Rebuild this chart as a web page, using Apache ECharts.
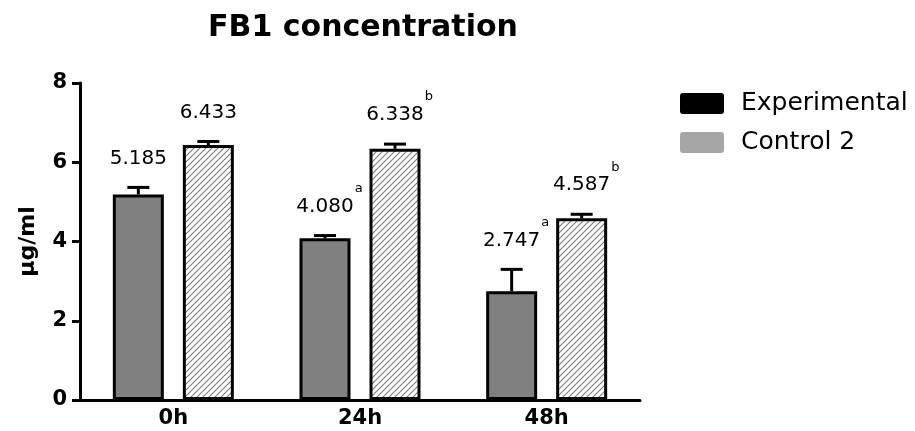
<!DOCTYPE html>
<html lang="en">
  <head>
    <meta charset="UTF-8" />
    <script src="https://cdn.jsdelivr.net/npm/echarts@6/dist/echarts.min.js"></script>
    <title>FB1 concentration</title>
    <style>
      html, body { margin: 0; padding: 0; background: #fff; }
    </style>
  </head>
  <body>
    <div id="container" style="width: 915px; height: 431px;"></div>

    <script>
      const categories = ["0h", "24h", "48h"];
      const experimental = [5.185, 4.08, 2.747];
      const control = [6.433, 6.338, 4.587];
      // upper error (SEM) read from the caps
      const experimentalErr = [0.18, 0.07, 0.55];
      const controlErr = [0.09, 0.12, 0.1];
      const experimentalSup = ["", "a", "a"];
      const controlSup = ["", "b", "b"];

      const FONT = "DejaVu Sans";
      const BAR_W = 51;
      const BAR_GAP = 19;

      // diagonal hatch for the control bars
      function hatch() {
        const s = 6;
        const c = document.createElement("canvas");
        c.width = s;
        c.height = s;
        const ctx = c.getContext("2d");
        ctx.fillStyle = "#fff";
        ctx.fillRect(0, 0, s, s);
        ctx.strokeStyle = "#7a7a7a";
        ctx.lineWidth = 1.1;
        ctx.beginPath();
        ctx.moveTo(0, s); ctx.lineTo(s, 0);
        ctx.moveTo(-1, 1); ctx.lineTo(1, -1);
        ctx.moveTo(s - 1, s + 1); ctx.lineTo(s + 1, s - 1);
        ctx.stroke();
        return c;
      }

      const measure = document.createElement("canvas").getContext("2d");
      measure.font = "20px '" + FONT + "'";

      function errorSeries(values, errs, sups, dx) {
        return {
          type: "custom",
          z: 5,
          silent: true,
          data: values.map((v, i) => [i, v, errs[i]]),
          renderItem: function (params, api) {
            const i = api.value(0);
            const v = api.value(1);
            const e = api.value(2);
            const sup = sups[i];
            const base = api.coord([i, v]);
            const top = api.coord([i, v + e]);
            const x = base[0] + dx;
            const txt = v.toFixed(3);
            const w = measure.measureText(txt).width;
            const ly = top[1] - 29;
            const children = [
              {
                type: "line",
                shape: { x1: x, y1: base[1], x2: x, y2: top[1] },
                style: { stroke: "#000", lineWidth: 3 },
              },
              {
                type: "line",
                shape: { x1: x - 11, y1: top[1], x2: x + 11, y2: top[1] },
                style: { stroke: "#000", lineWidth: 3 },
              },
              {
                type: "text",
                style: {
                  x: x,
                  y: ly,
                  text: txt,
                  fill: "#000",
                  font: "20px '" + FONT + "'",
                  align: "center",
                  verticalAlign: "middle",
                },
              },
            ];
            if (sup) {
              children.push({
                type: "text",
                style: {
                  x: x + w / 2 + 1,
                  y: ly - 18,
                  text: sup,
                  fill: "#000",
                  font: "13px '" + FONT + "'",
                  align: "left",
                  verticalAlign: "middle",
                },
              });
            }
            return { type: "group", children: children };
          },
        };
      }

      const myChart = echarts.init(document.getElementById("container"));

      const legendIcon =
        "path://M3,0 H41 Q44,0 44,3 V18 Q44,21 41,21 H3 Q0,21 0,18 V3 Q0,0 3,0 Z";

      const option = {
        animation: false,
        title: {
          text: "FB1 concentration",
          left: 358,
          top: 8,
          textAlign: "center",
          textStyle: { fontFamily: FONT, fontSize: 30, fontWeight: "bold", color: "#000" },
        },
        legend: {
          orient: "vertical",
          left: 675,
          top: 86,
          itemWidth: 44,
          itemHeight: 21,
          itemGap: 14,
          icon: legendIcon,
          textStyle: { fontFamily: FONT, fontSize: 25, color: "#000", padding: [0, 0, 0, 12] },
          data: [
            { name: "Experimental", itemStyle: { color: "#000", borderWidth: 0 } },
            { name: "Control 2", itemStyle: { color: "#a6a6a6", borderWidth: 0 } },
          ],
        },
        grid: { left: 80, right: 275, top: 83, bottom: 31 },
        xAxis: {
          type: "category",
          data: categories,
          axisLine: { lineStyle: { color: "#000", width: 3 } },
          axisTick: { alignWithLabel: true, length: 6, lineStyle: { color: "#000", width: 3 } },
          axisLabel: { fontFamily: FONT, fontSize: 21, fontWeight: "bold", color: "#000", margin: 8 },
        },
        yAxis: {
          type: "value",
          min: 0,
          max: 8,
          interval: 2,
          name: "μg/ml",
          nameLocation: "middle",
          nameRotate: 90,
          nameGap: 41,
          nameTextStyle: { fontFamily: FONT, fontSize: 22, fontWeight: "bold", color: "#000" },
          splitLine: { show: false },
          axisLine: { show: true, lineStyle: { color: "#000", width: 3 } },
          axisTick: { show: true, length: 8, lineStyle: { color: "#000", width: 3 } },
          axisLabel: { fontFamily: FONT, fontSize: 21, fontWeight: "bold", color: "#000", margin: 13 },
        },
        series: [
          {
            name: "Experimental",
            type: "bar",
            data: experimental,
            barWidth: BAR_W,
            barGap: (BAR_GAP / BAR_W) * 100 + "%",
            itemStyle: { color: "#808080", borderColor: "#000", borderWidth: 3 },
          },
          {
            name: "Control 2",
            type: "bar",
            data: control,
            barWidth: BAR_W,
            itemStyle: {
              color: { image: hatch(), repeat: "repeat" },
              borderColor: "#000",
              borderWidth: 3,
            },
          },
          errorSeries(experimental, experimentalErr, experimentalSup, -(BAR_W + BAR_GAP) / 2),
          errorSeries(control, controlErr, controlSup, (BAR_W + BAR_GAP) / 2),
        ],
      };

      myChart.setOption(option);
    </script>
  </body>
</html>
